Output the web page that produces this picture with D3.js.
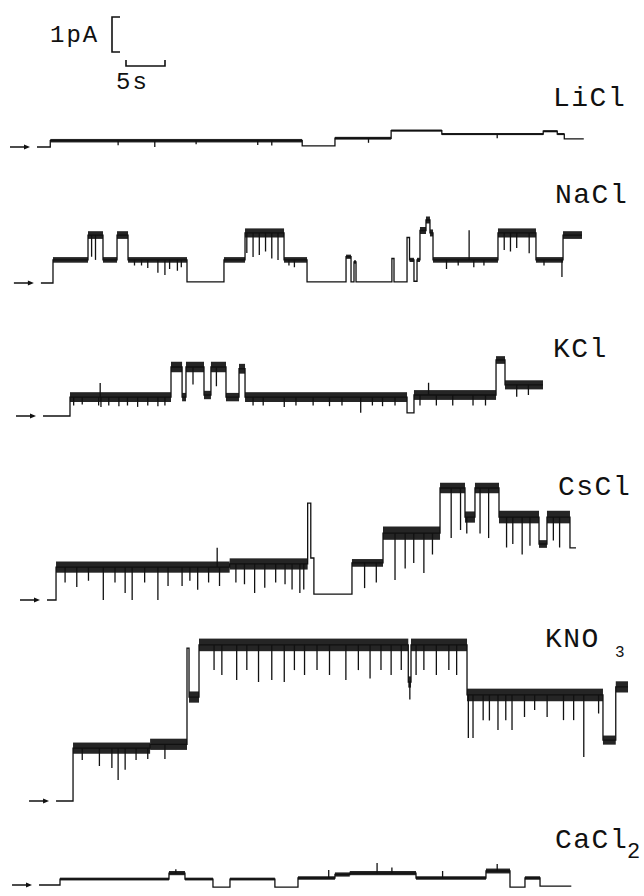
<!DOCTYPE html>
<meta charset="utf-8">
<script src="https://d3js.org/d3.v7.min.js"></script>
<style>
    body { margin: 0; background: #fff; }
    .lbl { font-family: "Liberation Mono", "Courier New", monospace; fill: #111; }
</style>
<div id="my_dataviz"></div>
<script>
    // time (s) of each level change, last entry = end of record
    // level (pA) after each change, noise = half width of the open-channel noise (pA)
    // spikes = brief events [time s, current pA]
    var liclTime = [0, 1.7, 34.0, 38.2, 45.4, 51.9, 64.9, 66.7, 67.6, 70.1];
    var liclLevel = [0, 0.18, 0.03, 0.25, 0.47, 0.37, 0.45, 0.37, 0.23];
    var liclNoise = [0, 0.05, 0, 0.04, 0.03, 0.03, 0.03, 0.03, 0];
    var liclSpikes = [[10.4, 0.05], [15.1, 0.0], [20.4, 0.08], [28.3, 0.06], [30.1, 0.04], [42.5, 0.12], [59.0, 0.25]];

    var naclTime = [0.5, 2.05, 6.54, 8.46, 10.26, 11.67, 19.23, 23.97, 26.67, 31.67, 34.62, 39.62, 40.26, 40.64, 40.9, 45.5, 45.77, 47.44, 47.76, 48.33, 48.72, 49.1, 49.87, 50.38, 50.77, 59.1, 63.97, 67.44, 69.87];
    var naclLevel = [0, 0.66, 1.37, 0.66, 1.37, 0.66, 0.03, 0.66, 1.43, 0.66, 0.03, 0.75, 0.03, 0.6, 0.03, 0.7, 0.03, 1.3, 0.66, 0.05, 0.66, 1.5, 1.8, 1.43, 0.66, 1.43, 0.66, 1.37];
    var naclNoise = [0, 0.08, 0.11, 0.08, 0.11, 0.08, 0, 0.08, 0.13, 0.08, 0, 0.06, 0, 0.05, 0, 0, 0, 0, 0.06, 0, 0.06, 0.1, 0.1, 0.1, 0.08, 0.13, 0.08, 0.11];
    var naclSpikes = [[7.0, 0.75], [7.5, 0.66], [12.5, 0.5], [13.4, 0.5], [14.2, 0.43], [15.5, 0.29], [16.4, 0.23], [17.0, 0.4], [18.0, 0.35], [18.5, 0.45], [26.9, 0.86], [27.7, 0.74], [28.5, 0.8], [29.3, 0.9], [30.1, 0.7], [30.9, 0.66], [32.3, 0.5], [33.0, 0.45], [52.5, 0.4], [54.0, 0.5], [55.4, 1.51], [56.0, 0.45], [57.3, 0.5], [59.9, 0.94], [60.7, 0.9], [61.5, 1.0], [63.1, 0.85], [65.0, 0.5], [67.3, 0.17]];

    var kclTime = [0.77, 4.23, 17.18, 18.6, 19.1, 21.41, 22.3, 24.23, 25.9, 26.67, 47.44, 48.33, 58.85, 60.0, 64.87];
    var kclLevel = [0, 0.54, 1.4, 0.54, 1.4, 0.6, 1.4, 0.54, 1.35, 0.54, 0.09, 0.6, 1.6, 0.89];
    var kclNoise = [0, 0.14, 0.15, 0.12, 0.15, 0.12, 0.15, 0.12, 0.14, 0.14, 0, 0.14, 0.11, 0.13];
    var kclSpikes = [[4.7, 0.3], [5.8, 0.33], [7.9, 0.3], [8.1, 0.94], [8.2, 0.26], [9.2, 0.3], [10.5, 0.28], [11.6, 0.3], [12.9, 0.26], [14.2, 0.3], [15.5, 0.28], [16.4, 0.3], [20.0, 0.9], [23.0, 0.85], [27.7, 0.3], [29.0, 0.3], [31.7, 0.26], [33.2, 0.3], [35.4, 0.3], [37.5, 0.28], [39.1, 0.3], [41.5, 0.09], [43.0, 0.3], [44.3, 0.28], [45.9, 0.3], [49.1, 0.3], [50.2, 0.95], [51.2, 0.3], [53.3, 0.3], [55.9, 0.3], [57.5, 0.3], [61.5, 0.55], [63.0, 0.6]];

    var csclTime = [1.28, 2.44, 24.7, 34.7, 35.1, 35.5, 40.38, 44.36, 51.67, 54.87, 56.15, 59.23, 64.36, 65.38, 68.33, 69.1];
    var csclLevel = [0, 0.94, 1.03, 2.77, 1.2, 0.17, 1.06, 1.91, 3.2, 2.37, 3.2, 2.37, 1.6, 2.37, 1.49];
    var csclNoise = [0, 0.16, 0.16, 0, 0, 0, 0.11, 0.19, 0.15, 0.16, 0.15, 0.18, 0.11, 0.18, 0];
    var csclSpikes = [[3.6, 0.5], [5.1, 0.37], [6.6, 0.55], [8.5, 0], [10.0, 0.5], [11.3, 0.2], [12.2, 0], [13.8, 0.5], [15.5, 0], [16.8, 0.4], [18.6, 0.4], [19.6, 0.55], [20.6, 0.29], [22.0, 0.5], [23.1, 1.49], [23.4, 0.4], [25.5, 0.5], [26.6, 0.45], [27.9, 0.2], [29.2, 0.35], [30.6, 0.5], [31.8, 0.45], [32.7, 0.3], [33.7, 0.2], [34.2, 0.3], [42.0, 0.34], [43.5, 0.5], [45.9, 0.57], [47.2, 0.9], [48.3, 1.06], [49.6, 0.77], [50.7, 1.3], [53.1, 1.77], [54.3, 2.0], [55.1, 1.9], [56.8, 1.9], [57.9, 1.77], [60.2, 1.5], [61.0, 1.6], [62.2, 1.3], [63.2, 1.55], [66.2, 1.7], [67.0, 1.5]];

    var kno3Time = [2.44, 4.62, 14.5, 19.23, 19.49, 20.77, 47.6, 47.95, 55.13, 72.56, 74.2, 75.77];
    var kno3Level = [0, 1.51, 1.62, 4.37, 2.97, 4.46, 3.4, 4.46, 3.03, 1.74, 3.26];
    var kno3Noise = [0, 0.16, 0.16, 0, 0.16, 0.18, 0.16, 0.18, 0.18, 0.13, 0.16];
    var kno3Spikes = [[5.8, 1.17], [8.0, 1.0], [9.6, 0.94], [10.4, 0.6], [11.3, 0.89], [12.7, 1.17], [14.2, 1.2], [16.4, 1.2],
        [22.7, 3.74], [23.7, 3.6], [25.6, 3.46], [26.9, 3.74], [28.4, 3.4], [30.1, 3.46], [31.7, 3.4], [33.0, 3.74], [34.3, 3.6], [35.9, 3.74], [37.5, 3.6], [39.6, 3.46], [41.2, 3.74], [42.7, 3.5], [44.1, 3.74], [45.4, 3.6], [46.7, 3.74], [47.8, 2.9], [48.6, 3.6], [49.6, 3.74], [51.2, 3.6], [52.8, 3.74], [53.8, 3.6],
        [55.3, 1.8], [55.9, 1.8], [57.2, 2.31], [58.0, 2.3], [59.1, 2.03], [60.1, 2.31], [60.9, 2.03], [62.5, 2.4], [63.8, 2.6], [65.4, 2.4], [67.5, 2.31], [68.8, 2.31], [70.1, 1.26], [72.0, 2.5]];

    var cacl2Time = [0.26, 2.95, 16.92, 18.97, 22.56, 24.74, 30.5, 33.46, 38.2, 40.1, 48.59, 57.56, 60.64, 62.56, 64.49, 68.5];
    var cacl2Level = [0, 0.17, 0.34, 0.17, -0.06, 0.17, -0.06, 0.2, 0.3, 0.34, 0.2, 0.4, -0.06, 0.2, -0.03];
    var cacl2Noise = [0, 0.04, 0.06, 0.04, 0, 0.04, 0, 0.05, 0.06, 0.06, 0.05, 0.07, 0, 0.05, 0];
    var cacl2Spikes = [[17.8, 0.45], [37.4, 0.43], [43.6, 0.63], [45.5, 0.5], [52.0, 0.4], [59.0, 0.6]];

    var traces = [
        { name: "LiCl", time: liclTime, level: liclLevel, noise: liclNoise, spikes: liclSpikes },
        { name: "NaCl", time: naclTime, level: naclLevel, noise: naclNoise, spikes: naclSpikes },
        { name: "KCl", time: kclTime, level: kclLevel, noise: kclNoise, spikes: kclSpikes },
        { name: "CsCl", time: csclTime, level: csclLevel, noise: csclNoise, spikes: csclSpikes },
        { name: "KNO", sub: "3", time: kno3Time, level: kno3Level, noise: kno3Noise, spikes: kno3Spikes },
        { name: "CaCl", sub: "2", time: cacl2Time, level: cacl2Level, noise: cacl2Noise, spikes: cacl2Spikes }
    ];

    // layout: zero-current line of each trace and label placement
    var zeroY = [147, 283, 416, 600, 801, 885];
    var labelPos = [[553, 106], [555, 203], [553, 357], [558, 495], [545, 647], [555, 848]];
    var subPos = [null, null, null, null, [615, 657], [627, 858]];
    var pxPerPA = 35;

    var svg = d3.select("#my_dataviz")
        .append("svg")
        .attr("width", 644)
        .attr("height", 896)
        .style("background", "#fff");

    var x = d3.scaleLinear().domain([0, 70]).range([37, 583]);

    traces.forEach(function (tr, k) {
        var y0 = zeroY[k];
        var y = d3.scaleLinear().domain([0, 1]).range([y0, y0 - pxPerPA]);
        var g = svg.append("g");

        var segs = tr.level.map(function (v, i) {
            return { t0: tr.time[i], t1: tr.time[i + 1], v: v, n: tr.noise[i] };
        });

        // noise band of the open levels
        g.selectAll("rect.band")
            .data(segs.filter(function (d) { return d.n > 0; }))
            .enter()
            .append("rect")
            .attr("class", "band")
            .attr("x", function (d) { return x(d.t0); })
            .attr("width", function (d) { return x(d.t1) - x(d.t0); })
            .attr("y", function (d) { return y(d.v + d.n); })
            .attr("height", function (d) { return y(d.v - d.n) - y(d.v + d.n); })
            .attr("fill", "#0d0d0d")
            .attr("fill-opacity", 0.9);

        // step trace
        var pts = segs.map(function (d) { return [d.t0, d.v]; });
        pts.push([tr.time[tr.time.length - 1], tr.level[tr.level.length - 1]]);
        var line = d3.line()
            .x(function (d) { return x(d[0]); })
            .y(function (d) { return y(d[1]); })
            .curve(d3.curveStepAfter);
        g.append("path")
            .datum(pts)
            .attr("d", line)
            .attr("fill", "none")
            .attr("stroke", "#111")
            .attr("stroke-width", 1.3);

        // brief events
        function levelAt(t) {
            var s = segs.filter(function (d) { return t >= d.t0 && t < d.t1; })[0];
            return s ? s.v : 0;
        }
        g.selectAll("line.spike")
            .data(tr.spikes)
            .enter()
            .append("line")
            .attr("class", "spike")
            .attr("x1", function (d) { return x(d[0]); })
            .attr("x2", function (d) { return x(d[0]); })
            .attr("y1", function (d) { return y(levelAt(d[0])); })
            .attr("y2", function (d) { return y(d[1]); })
            .attr("stroke", "#111")
            .attr("stroke-width", 1.3);

        // zero-current arrow
        var xs = x(tr.time[0]);
        g.append("line")
            .attr("x1", xs - 27).attr("x2", xs - 11)
            .attr("y1", y(0)).attr("y2", y(0))
            .attr("stroke", "#111").attr("stroke-width", 1.5);
        g.append("path")
            .attr("d", "M" + (xs - 7) + "," + y(0) + "L" + (xs - 13) + "," + (y(0) - 2.5) + "L" + (xs - 13) + "," + (y(0) + 2.5) + "Z")
            .attr("fill", "#111");

        // label
        svg.append("text")
            .attr("class", "lbl")
            .attr("x", labelPos[k][0])
            .attr("y", labelPos[k][1])
            .style("font-size", "28px")
            .style("letter-spacing", "1.5px")
            .text(tr.name);
        if (tr.sub) {
            svg.append("text")
                .attr("class", "lbl")
                .attr("x", subPos[k][0])
                .attr("y", subPos[k][1])
                .style("font-size", tr.sub == "3" ? "16px" : "22px")
                .text(tr.sub);
        }
    });

    // scale bars: 1 pA and 5 s
    var barY = d3.scaleLinear().domain([0, 1]).range([52, 52 - pxPerPA]);
    svg.append("path")
        .attr("d", "M120," + barY(1) + "H112V" + barY(0) + "H120")
        .attr("fill", "none").attr("stroke", "#111").attr("stroke-width", 1.6);
    svg.append("path")
        .attr("d", "M" + (x(0) + 89) + ",60V66H" + (x(5) + 89) + "V60")
        .attr("fill", "none").attr("stroke", "#111").attr("stroke-width", 1.6);
    svg.append("text").attr("class", "lbl")
        .attr("x", 50).attr("y", 42)
        .style("font-size", "24px").style("letter-spacing", "2px")
        .text("1pA");
    svg.append("text").attr("class", "lbl")
        .attr("x", 116).attr("y", 89)
        .style("font-size", "24px").style("letter-spacing", "2px")
        .text("5s");
</script>
